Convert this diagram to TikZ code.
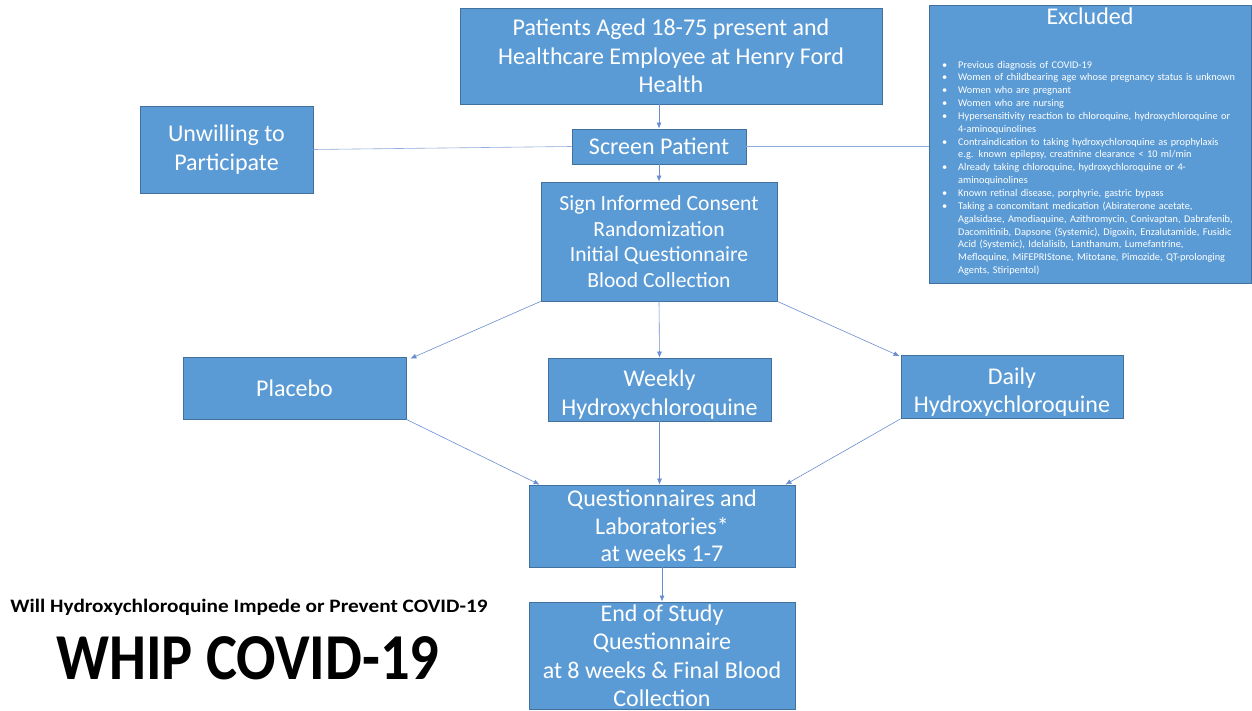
\documentclass[tikz,border=0pt]{standalone}
\usepackage{fontspec}
\setmainfont{Carlito}
\usetikzlibrary{arrows.meta}
\definecolor{boxfill}{HTML}{5B9BD5}
\definecolor{boxline}{HTML}{41719C}
\definecolor{conn}{HTML}{4472C4}
\begin{document}
\begin{tikzpicture}[x=1pt,y=-1pt,
  box/.style={draw=boxline, line width=0.8pt, fill=boxfill, text=white, align=center, inner sep=2pt},
  arr/.style={draw=conn!80, line width=0.6pt, -{Latex[length=6pt,width=5pt]}},
  ln/.style={draw=conn!60, line width=0.6pt}]
\useasboundingbox (0,0) rectangle (1252,711);
\fill[white] (0,0) rectangle (1252,711);

\node[box, minimum width=422pt, minimum height=96pt, font=\fontsize{24}{28.5}\selectfont] (top) at (671,56)
  {Patients Aged 18-75 present and\\Healthcare Employee at Henry Ford\\Health};
\node[box, minimum width=322pt, minimum height=278pt, anchor=north west, inner sep=0pt] (exc) at (929,5) {};
\node[text=white, font=\fontsize{24}{28}\selectfont] (exct) at (1090,16) {Excluded};
\node[text=white, anchor=north west, inner sep=0pt, text width=312pt,
  font=\fontsize{10.3}{12.85}\selectfont] (excl) at (937,55) {%
\begin{list}{\textbullet}{\leftmargin=21pt\labelwidth=10pt\labelsep=11pt\itemsep=0pt\parsep=0pt\topsep=0pt\partopsep=0pt}
\item Previous diagnosis of COVID-19
\item Women of childbearing age whose pregnancy status is unknown
\item Women who are pregnant
\item Women who are nursing
\item Hypersensitivity reaction to chloroquine, hydroxychloroquine or\\4-aminoquinolines
\item Contraindication to taking hydroxychloroquine as prophylaxis\\e.g. known epilepsy, creatinine clearance < 10 ml/min
\item Already taking chloroquine, hydroxychloroquine or 4-\\aminoquinolines
\item Known retinal disease, porphyrie, gastric bypass
\item Taking a concomitant medication (Abiraterone acetate,\\Agalsidase, Amodiaquine, Azithromycin, Conivaptan, Dabrafenib,\\Dacomitinib, Dapsone (Systemic), Digoxin, Enzalutamide, Fusidic\\Acid (Systemic), Idelalisib, Lanthanum, Lumefantrine,\\Mefloquine, MiFEPRIStone, Mitotane, Pimozide, QT-prolonging\\Agents, Stiripentol)
\end{list}};

\node[box, minimum width=173pt, minimum height=87pt, font=\fontsize{24}{28.5}\selectfont] (unw) at (226.5,149.5)
  {Unwilling to\\Participate};
\node[box, minimum width=174pt, minimum height=35pt, font=\fontsize{24}{26}\selectfont] (scr) at (659,146.5)
  {Screen Patient};
\node[box, minimum width=236pt, minimum height=119pt, font=\fontsize{21.6}{25.6}\selectfont] (con) at (659,241.5)
  {Sign Informed Consent\\Randomization\\Initial Questionnaire\\Blood Collection};
\node[box, minimum width=223pt, minimum height=62pt, font=\fontsize{24}{27}\selectfont] (pla) at (294.5,388)
  {Placebo};
\node[box, minimum width=223pt, minimum height=61pt, font=\fontsize{24}{28.5}\selectfont] (wee) at (659.5,389.5)
  {\rule{0pt}{2pt}\\[-4pt]Weekly\\Hydroxychloroquine};
\node[box, minimum width=222pt, minimum height=62pt, font=\fontsize{24}{28.5}\selectfont] (dai) at (1012,387)
  {\rule{0pt}{2pt}\\[-4pt]Daily\\Hydroxychloroquine};
\node[box, minimum width=266pt, minimum height=82pt, font=\fontsize{24}{27.5}\selectfont] (que) at (662,526)
  {Questionnaires and\\Laboratories*\\at weeks 1-7};
\node[box, minimum width=266pt, minimum height=107pt, font=\fontsize{24}{28.5}\selectfont] (end) at (662,655.5)
  {End of Study\\Questionnaire\\at 8 weeks \& Final Blood\\Collection};

\node[font=\fontsize{19}{22}\selectfont\bfseries] (sub) at (249,607) {\scalebox{1.12}[1]{Will Hydroxychloroquine Impede or Prevent COVID-19}};
\node[font=\fontsize{58.5}{64}\selectfont\bfseries] (ttl) at (248,658) {\scalebox{1}[1.12]{WHIP COVID-19}};

\draw[ln] (unw.east) -- (scr.west);
\draw[ln] (scr.east) -- (exc.west |- scr.east);
\draw[arr] (top.south -| scr.north) -- (scr.north);
\draw[arr] (scr.south) -- (con.north);
\draw[arr] (con.south west) -- ([xshift=4pt,yshift=-2pt]pla.north east);
\draw[arr] (con.south) -- (wee.north);
\draw[arr] (con.south east) -- ([xshift=-1pt,yshift=-1pt]dai.north west);
\draw[arr] (pla.south east) -- ([xshift=11pt]que.north west);
\draw[arr] (wee.south) -- (wee.south |- que.north);
\draw[arr] (dai.south west) -- ([xshift=-10pt]que.north east);
\draw[arr] (que.south) -- (end.north);
\end{tikzpicture}
\end{document}
